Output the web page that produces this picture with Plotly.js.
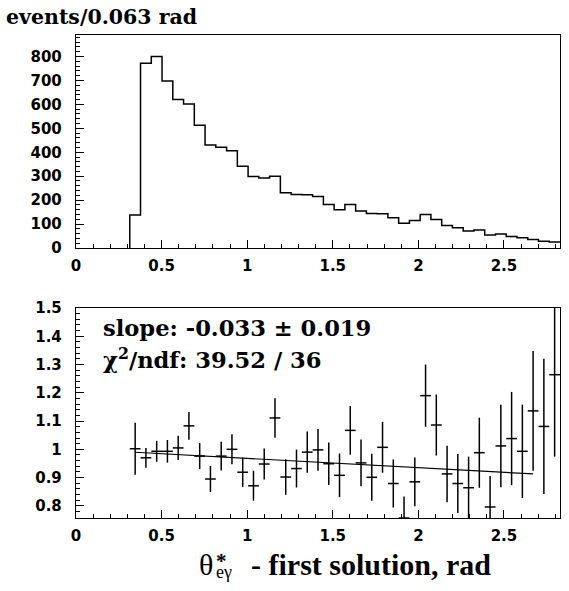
<!DOCTYPE html>
<html><head><meta charset="utf-8">
<script src="https://cdn.plot.ly/plotly-3.0.1.min.js"></script>
<style>html,body{margin:0;padding:0;background:#fff}#c{width:569px;height:591px}</style>
</head><body><div id="c"></div>
<script>
// histogram definition: bins of pi/50 rad, first filled bin starts at 5*pi/50
const binWidth = Math.PI / 50;
const firstBin = 5;
const histCounts = [138, 772, 800, 698, 620, 602, 513, 430, 421, 406, 342, 299, 293, 300, 231, 224, 222, 215, 182, 160,
                    182, 155, 144, 143, 126, 103, 115, 140, 119, 94, 85, 71, 75, 54, 58, 48, 43, 35, 28, 25];
const ratioValues = [1.002, 0.970, 0.993, 0.993, 1.005, 1.083, 0.976, 0.895, 0.976, 1.000, 0.919, 0.871, 0.948, 1.111, 0.902, 0.932, 0.990, 0.998, 0.949, 0.908,
                     1.067, 0.952, 0.901, 1.007, 0.879, 0.757, 0.885, 1.190, 1.086, 0.913, 0.879, 0.864, 0.988, 0.796, 1.012, 1.038, 0.993, 1.136, 1.081, 1.264];
const ratioErrors = [0.092, 0.035, 0.037, 0.040, 0.043, 0.049, 0.046, 0.046, 0.051, 0.053, 0.052, 0.053, 0.055, 0.070, 0.063, 0.067, 0.073, 0.074, 0.075, 0.077,
                     0.086, 0.083, 0.083, 0.090, 0.085, 0.076, 0.086, 0.110, 0.108, 0.100, 0.104, 0.110, 0.124, 0.110, 0.146, 0.165, 0.165, 0.212, 0.239, 0.290];
const fitIntercept = 1.001;
const fitSlope = -0.033;
const fitNBins = 38;
const topLabel = 'events/0.063 rad';
const fitText1 = 'slope: -0.033 \u00b1 0.019';
const fitText2 = '\u03c7<sup>2</sup>/ndf: 39.52 / 36';
const xTitleMain = '- first solution, rad';

// derived
const edges = histCounts.map((_, i) => (firstBin + i) * binWidth);
const lastEdge = (firstBin + histCounts.length) * binWidth;
const hx = [edges[0]].concat(edges, [lastEdge]);
const hy = [0].concat(histCounts, [histCounts[histCounts.length - 1]]);
const centers = ratioValues.map((_, i) => (firstBin + i + 0.5) * binWidth);
const fitX = [centers[0], centers[fitNBins - 1]];
const fitY = fitX.map(x => fitIntercept + fitSlope * x);

const xmax = 45 * binWidth;
const tickFont = {family: 'DejaVu Sans', size: 15, color: '#000', weight: 'bold'};

function axisBase() {
  return {
    showline: true, mirror: true, linecolor: '#000', linewidth: 1.2,
    ticks: 'inside', ticklen: 8, tickwidth: 1, tickcolor: '#000',
    showgrid: false, zeroline: false, tickfont: tickFont,
  };
}

const traces = [
  {x: hx, y: hy, type: 'scatter', mode: 'lines', line: {shape: 'hv', color: '#000', width: 1.5},
   xaxis: 'x', yaxis: 'y', hoverinfo: 'skip'},
  {x: centers, y: ratioValues, type: 'scatter', mode: 'markers', marker: {size: 1, color: '#000', opacity: 0},
   error_y: {type: 'data', array: ratioErrors, visible: true, color: '#000', thickness: 1.5, width: 0},
   error_x: {type: 'constant', value: binWidth / 2, visible: true, color: '#000', thickness: 1.5, width: 0},
   xaxis: 'x2', yaxis: 'y2', hoverinfo: 'skip'},
  {x: fitX, y: fitY, type: 'scatter', mode: 'lines', line: {color: '#000', width: 1.2},
   xaxis: 'x2', yaxis: 'y2', hoverinfo: 'skip'}
];

const W = 569, H = 591, L = 76, R = 9, T = 35, B = 73;
const pw = W - L - R, ph = H - T - B;
const px = v => (v - L) / pw;
const py = v => (H - B - v) / ph;

const layout = {
  width: W, height: H, showlegend: false,
  margin: {l: L, r: R, t: T, b: B},
  paper_bgcolor: '#fff', plot_bgcolor: '#fff',
  xaxis: Object.assign(axisBase(), {domain: [0, 1], anchor: 'y', range: [0, xmax], dtick: 0.5, tick0: 0,
    minor: {dtick: 0.1, ticklen: 4, ticks: 'inside', tickcolor: '#000'}, ticklabelstandoff: 4}),
  yaxis: Object.assign(axisBase(), {domain: [py(248), 1], anchor: 'x', range: [0, 890], dtick: 100, tick0: 0,
    minor: {dtick: 20, ticklen: 4, ticks: 'inside', tickcolor: '#000'}, ticklabelstandoff: 10}),
  xaxis2: Object.assign(axisBase(), {domain: [0, 1], anchor: 'y2', range: [0, xmax], dtick: 0.5, tick0: 0,
    minor: {dtick: 0.1, ticklen: 4, ticks: 'inside', tickcolor: '#000'}, ticklabelstandoff: 4}),
  yaxis2: Object.assign(axisBase(), {domain: [0, py(308)], anchor: 'x2', range: [0.757, 1.5], dtick: 0.1, tick0: 0,
    minor: {dtick: 0.02, ticklen: 4, ticks: 'inside', tickcolor: '#000'}, ticklabelstandoff: 10}),
  annotations: [
    {text: topLabel, xref: 'paper', yref: 'paper', x: px(4), y: py(17), xanchor: 'left', yanchor: 'middle', showarrow: false,
     font: {family: 'DejaVu Serif', size: 20.5, color: '#000', weight: 'bold'}},
    {text: fitText1, xref: 'paper', yref: 'paper', x: px(101), y: py(328), xanchor: 'left', yanchor: 'middle', showarrow: false,
     font: {family: 'DejaVu Serif', size: 22.6, color: '#000', weight: 'bold'}},
    {text: fitText2, xref: 'paper', yref: 'paper', x: px(101), y: py(358), xanchor: 'left', yanchor: 'middle', showarrow: false,
     font: {family: 'DejaVu Serif', size: 22.6, color: '#000', weight: 'bold'}},
    {text: '\u03b8', xref: 'paper', yref: 'paper', x: px(197), y: py(564), xanchor: 'left', yanchor: 'middle', showarrow: false,
     font: {family: 'Liberation Serif', size: 30, color: '#000'}},
    {text: '*', xref: 'paper', yref: 'paper', x: px(214), y: py(561), xanchor: 'left', yanchor: 'middle', showarrow: false,
     font: {family: 'Liberation Serif', size: 21, color: '#000', weight: 'bold'}},
    {text: 'e\u03b3', xref: 'paper', yref: 'paper', x: px(214), y: py(572), xanchor: 'left', yanchor: 'middle', showarrow: false,
     font: {family: 'Liberation Serif', size: 18, color: '#000'}},
    {text: xTitleMain, xref: 'paper', yref: 'paper', x: px(249), y: py(564), xanchor: 'left', yanchor: 'middle', showarrow: false,
     font: {family: 'Liberation Serif', size: 30, color: '#000', weight: 'bold'}}
  ]
};

Plotly.newPlot('c', traces, layout, {staticPlot: true, displayModeBar: false});
</script>
</body></html>
